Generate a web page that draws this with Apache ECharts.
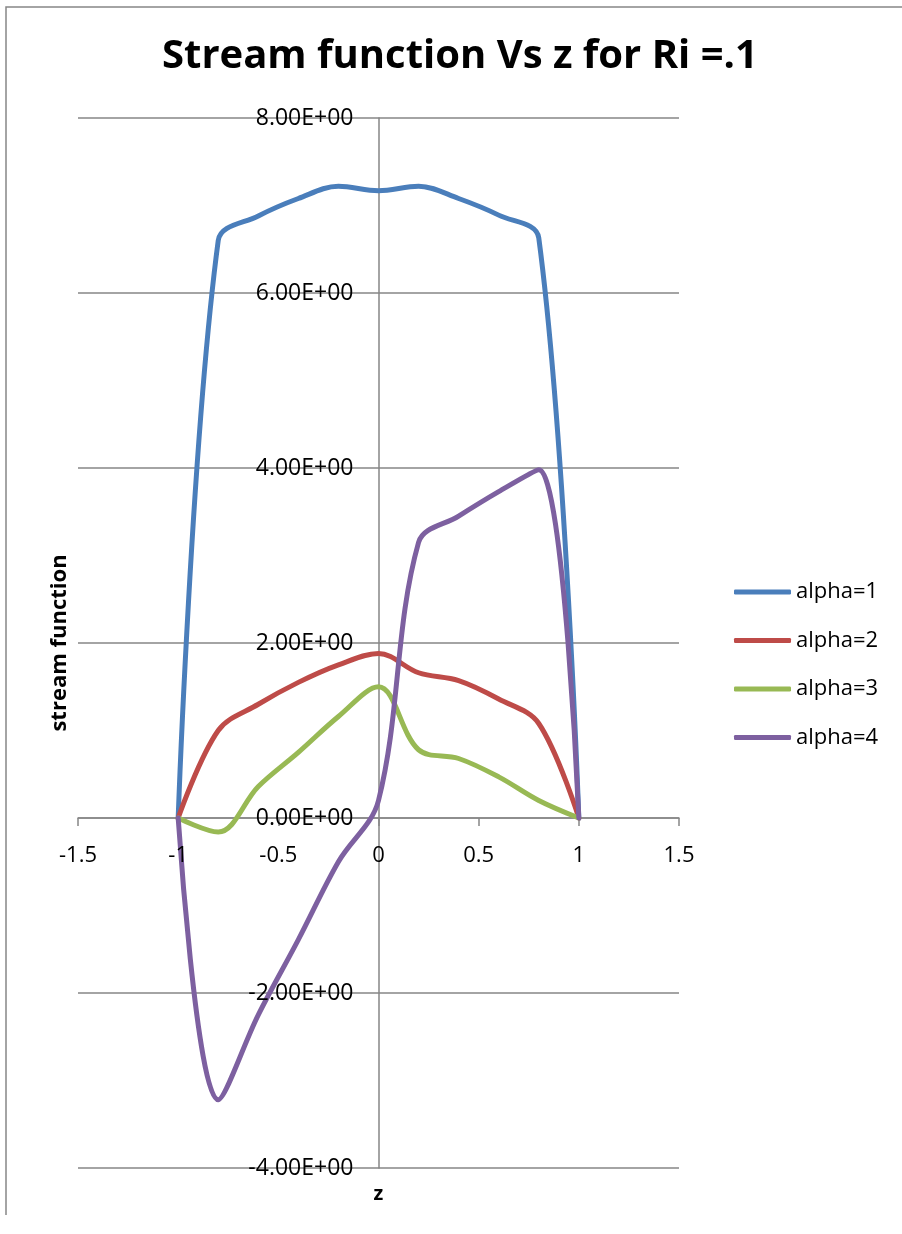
<!DOCTYPE html>
<html>
<head>
<meta charset="utf-8">
<title>Stream function Vs z for Ri =.1</title>
<script src="https://cdn.jsdelivr.net/npm/echarts@6/dist/echarts.min.js"></script>
<style>
  html, body { margin: 0; padding: 0; background: #ffffff; }
  #chart { width: 902px; height: 1234px; }
</style>
</head>
<body>
<div id="chart"></div>
<script>
// z positions where the stream function was evaluated
const zValues = [-1, -0.8, -0.6, -0.4, -0.2, 0, 0.2, 0.4, 0.6, 0.8, 1];

// stream function for each alpha
const alpha1 = [0, 6.60, 6.88, 7.08, 7.22, 7.17, 7.22, 7.08, 6.89, 6.63, 0];
const alpha2 = [0, 1.00, 1.30, 1.55, 1.75, 1.88, 1.66, 1.57, 1.36, 1.08, 0];
const alpha3 = [0, -0.16, 0.36, 0.75, 1.16, 1.50, 0.78, 0.68, 0.47, 0.20, 0];
const alpha4 = [0, -3.22, -2.25, -1.39, -0.50, 0.20, 3.15, 3.45, 3.73, 3.98, 0];

const seriesNames = ['alpha=1', 'alpha=2', 'alpha=3', 'alpha=4'];
const seriesValues = [alpha1, alpha2, alpha3, alpha4];
const seriesColors = ['#4a7ebb', '#be4b48', '#98b954', '#7d60a0'];

// axis ranges
const xMin = -1.5, xMax = 1.5, xStep = 0.5;
const yMin = -4, yMax = 8, yStep = 2;

const FONT = "'Open Sans', 'Liberation Sans', sans-serif";
const AXIS_GRAY = '#868686';

// plot box in pixels
const GRID = { left: 78, right: 223, top: 118, bottom: 66 };
const PLOT_W = 902 - GRID.left - GRID.right;
const PLOT_H = 1234 - GRID.top - GRID.bottom;

// the axes cross at the origin: shift each axis from its grid edge to zero
const xAxisShift = -PLOT_H * (0 - yMin) / (yMax - yMin);
const yAxisShift = -PLOT_W * (0 - xMin) / (xMax - xMin);

// spreadsheet-style scientific label, e.g. 8.00E+00
function sci(v) {
  const parts = v.toExponential(2).split('e');
  const exp = parseInt(parts[1], 10);
  const sign = exp < 0 ? '-' : '+';
  const digits = String(Math.abs(exp)).padStart(2, '0');
  return parts[0] + 'E' + sign + digits;
}

function pairs(values) {
  return zValues.map((z, i) => [z, values[i]]);
}

const xLabelStyle = {
  margin: 27, fontFamily: FONT, fontSize: 22, color: '#000000',
  formatter: v => String(v)
};
const yLabelStyle = {
  margin: 25, fontFamily: FONT, fontSize: 23, color: '#000000',
  formatter: v => sci(v)
};

const chart = echarts.init(document.getElementById('chart'), null, { renderer: 'canvas' });

chart.setOption({
  backgroundColor: '#ffffff',
  animation: false,
  title: {
    text: 'Stream function Vs z for Ri =.1',
    left: 157,
    top: 32,
    textStyle: { fontFamily: FONT, fontWeight: 'bold', fontSize: 40, color: '#000000' }
  },
  grid: {
    left: GRID.left, right: GRID.right, top: GRID.top, bottom: GRID.bottom,
    outerBoundsMode: 'none'
  },
  legend: {
    orient: 'vertical',
    left: 729,
    top: 576,
    icon: 'roundRect',
    itemWidth: 57,
    itemHeight: 5,
    itemGap: 26.5,
    data: seriesNames,
    textStyle: { fontFamily: FONT, fontSize: 22, lineHeight: 22, color: '#000000' }
  },
  xAxis: [
    {
      // axis line, ticks and title (drawn beneath the curves)
      type: 'value',
      position: 'bottom',
      offset: xAxisShift,
      min: xMin, max: xMax, interval: xStep,
      name: 'z',
      nameLocation: 'middle',
      nameGap: 366,
      nameTextStyle: { fontFamily: FONT, fontWeight: 'bold', fontSize: 20, color: '#000000' },
      axisLine: { show: true, onZero: false, lineStyle: { color: AXIS_GRAY, width: 1.5 } },
      axisTick: { show: true, length: 8, inside: false, lineStyle: { color: AXIS_GRAY, width: 1.5 } },
      axisLabel: Object.assign({}, xLabelStyle, { show: false }),
      splitLine: { show: false }
    },
    {
      // tick labels, kept above the curves
      type: 'value',
      position: 'bottom',
      offset: xAxisShift,
      min: xMin, max: xMax, interval: xStep,
      z: 5,
      axisLine: { show: false, onZero: false },
      axisTick: { show: false },
      axisLabel: xLabelStyle,
      splitLine: { show: false }
    }
  ],
  yAxis: [
    {
      type: 'value',
      position: 'left',
      offset: yAxisShift,
      min: yMin, max: yMax, interval: yStep,
      name: 'stream function',
      nameLocation: 'middle',
      nameGap: 308,
      nameRotate: 90,
      nameTextStyle: { fontFamily: FONT, fontWeight: 'bold', fontSize: 22, color: '#000000' },
      axisLine: { show: true, onZero: false, lineStyle: { color: AXIS_GRAY, width: 1.5 } },
      axisTick: { show: false },
      axisLabel: Object.assign({}, yLabelStyle, { show: false }),
      splitLine: { show: true, lineStyle: { color: AXIS_GRAY, width: 1.5 } }
    },
    {
      type: 'value',
      position: 'left',
      offset: yAxisShift,
      min: yMin, max: yMax, interval: yStep,
      z: 5,
      axisLine: { show: false, onZero: false },
      axisTick: { show: false },
      axisLabel: yLabelStyle,
      splitLine: { show: false }
    }
  ],
  series: seriesNames.map((name, i) => ({
    name: name,
    type: 'line',
    xAxisIndex: 0,
    yAxisIndex: 0,
    data: pairs(seriesValues[i]),
    smooth: 0.35,
    showSymbol: false,
    symbol: 'none',
    color: seriesColors[i],
    lineStyle: { color: seriesColors[i], width: 5, cap: 'round', join: 'round' }
  })),
  graphic: [
    // chart-area frame (top and left edges)
    {
      type: 'polyline',
      shape: { points: [[6, 1215], [6, 7], [902, 7]] },
      style: { stroke: AXIS_GRAY, lineWidth: 1.5, fill: null },
      silent: true
    }
  ]
});
</script>
</body>
</html>
